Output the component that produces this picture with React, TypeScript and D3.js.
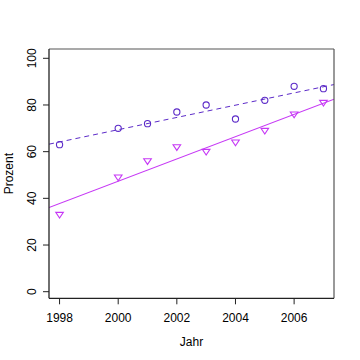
import React from "react";
import * as d3 from "d3";

const years = [1998, 2000, 2001, 2002, 2003, 2004, 2005, 2006, 2007];
const seriesCircle = [63, 70, 72, 77, 80, 74, 82, 88, 87];
const seriesTriangle = [33, 49, 56, 62, 60, 64, 69, 76, 81];
const xTicks = [1998, 2000, 2002, 2004, 2006];
const yTicks = [0, 20, 40, 60, 80, 100];
const xLabel = "Jahr";
const yLabel = "Prozent";

const circleColor = "#5c2bc8";
const triColor = "#c638f5";

function lm(xs: number[], ys: number[]) {
  const mx = d3.mean(xs) as number;
  const my = d3.mean(ys) as number;
  let sxy = 0, sxx = 0;
  xs.forEach((x, i) => {
    sxy += (x - mx) * (ys[i] - my);
    sxx += (x - mx) * (x - mx);
  });
  const b = sxy / sxx;
  return (x: number) => my + b * (x - mx);
}

export default function App() {
  const left = 49, right = 334, top = 49, bottom = 298.3;
  const x = d3.scaleLinear().domain([1997.64, 2007.36]).range([left, right]);
  const y = d3.scaleLinear().domain([0, 100]).range([291.7, 58.3]);
  const [x0, x1] = x.domain();
  const fC = lm(years, seriesCircle);
  const fT = lm(years, seriesTriangle);
  const line = d3.line<[number, number]>().x(d => x(d[0])).y(d => y(d[1]));
  const font = "'Liberation Sans', Arial, Helvetica, sans-serif";
  const tri = (cx: number, cy: number) => {
    const r = 3.8;
    return `M${cx - r},${cy - r * 0.6} L${cx + r},${cy - r * 0.6} L${cx},${cy + r * 0.9} Z`;
  };
  return (
    <svg width={360} height={360} style={{ position: "absolute", left: 0, top: 0, background: "#fff" }} fontFamily={font}>
      <rect x={0} y={0} width={360} height={360} fill="#fff" />
      <defs>
        <clipPath id="plotclip">
          <rect x={left} y={top} width={right - left} height={bottom - top} />
        </clipPath>
      </defs>
      <g clipPath="url(#plotclip)">
        <path d={line([[x0, fC(x0)], [x1, fC(x1)]]) || ""} stroke={circleColor} strokeWidth={1} strokeDasharray="5,4" fill="none" />
        <path d={line([[x0, fT(x0)], [x1, fT(x1)]]) || ""} stroke={triColor} strokeWidth={1.1} fill="none" />
      </g>
      {years.map((yr, i) => (
        <circle key={"c" + i} cx={x(yr)} cy={y(seriesCircle[i])} r={3.1} fill="none" stroke={circleColor} strokeWidth={1.1} />
      ))}
      {years.map((yr, i) => (
        <path key={"t" + i} d={tri(x(yr), y(seriesTriangle[i]))} fill="none" stroke={triColor} strokeWidth={1.1} />
      ))}
      {/* box */}
      <line x1={left} x2={right} y1={top} y2={top} stroke="#555" strokeWidth={1.2} />
      <line x1={right} x2={right} y1={top} y2={bottom} stroke="#555" strokeWidth={1.2} />
      <line x1={left} x2={left} y1={top} y2={bottom} stroke="#222" strokeWidth={1.3} />
      <line x1={left} x2={right} y1={bottom} y2={bottom} stroke="#222" strokeWidth={1.3} />
      {/* y axis */}
      {yTicks.map(t => (
        <g key={"yt" + t}>
          <line x1={left - 6} x2={left} y1={y(t)} y2={y(t)} stroke="#222" strokeWidth={1} />
          <text x={36} y={y(t)} transform={`rotate(-90, 36, ${y(t)})`} textAnchor="middle" fontSize={12} fill="#000">{t}</text>
        </g>
      ))}
      {/* x axis */}
      {xTicks.map(t => (
        <g key={"xt" + t}>
          <line x1={x(t)} x2={x(t)} y1={bottom} y2={bottom + 6} stroke="#222" strokeWidth={1} />
          <text x={x(t)} y={321.5} textAnchor="middle" fontSize={12} fill="#000">{t}</text>
        </g>
      ))}
      <text x={(left + right) / 2} y={346} textAnchor="middle" fontSize={12} fill="#000">{xLabel}</text>
      <text x={13} y={(top + bottom) / 2} transform={`rotate(-90, 13, ${(top + bottom) / 2})`} textAnchor="middle" fontSize={12} fill="#000">{yLabel}</text>
    </svg>
  );
}
